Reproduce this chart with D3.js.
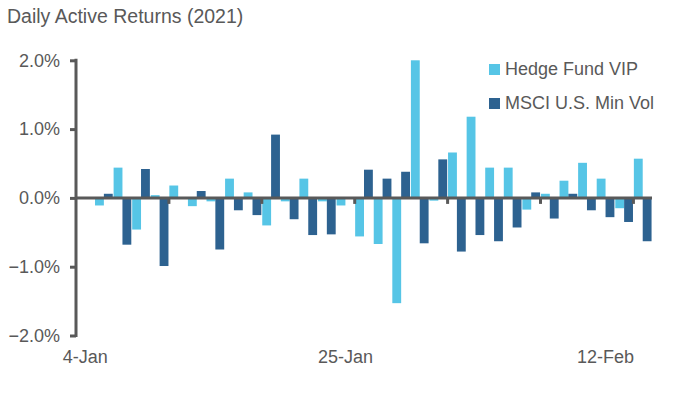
<!DOCTYPE html>
<html>
<head>
<meta charset="utf-8">
<script src="https://cdn.jsdelivr.net/npm/d3@7"></script>
<style>
	body { margin: 0; background: #fff; }
	text { font-family: "Liberation Sans", Arial, sans-serif; fill: #595959; }
</style>
</head>
<body>
<svg id="chart" width="679" height="394"></svg>
<script>
/* Data */

var dates = ["4-Jan","5-Jan","6-Jan","7-Jan","8-Jan","11-Jan","12-Jan","13-Jan","14-Jan","15-Jan",
	"19-Jan","20-Jan","21-Jan","22-Jan","25-Jan","26-Jan","27-Jan","28-Jan","29-Jan",
	"1-Feb","2-Feb","3-Feb","4-Feb","5-Feb","8-Feb","9-Feb","10-Feb","11-Feb","12-Feb","16-Feb","17-Feb"];

var hedgeFund = [0, -0.11, 0.44, -0.46, 0.04, 0.18, -0.12, -0.05, 0.28, 0.08,
	-0.40, -0.05, 0.28, -0.05, -0.11, -0.56, -0.67, -1.53, 2.00,
	-0.04, 0.66, 1.18, 0.44, 0.44, -0.17, 0.06, 0.25, 0.51, 0.28, -0.15, 0.57];

var msciMinVol = [0, 0.06, -0.68, 0.42, -0.99, 0, 0.10, -0.75, -0.18, -0.25,
	0.92, -0.31, -0.54, -0.53, 0, 0.41, 0.28, 0.38, -0.66,
	0.56, -0.78, -0.54, -0.63, -0.43, 0.08, -0.30, 0.06, -0.18, -0.28, -0.35, -0.63];

var seriesNames = ["Hedge Fund VIP", "MSCI U.S. Min Vol"];
var colors = ["#56C5E6", "#2D6290"];
var xLabels = ["4-Jan", "25-Jan", "12-Feb"];
var yTicks = [-2, -1, 0, 1, 2];

/* Layout */

var svg = d3.select("#chart");
var plot = {left: 76, right: 652, top: 60.3, bottom: 335.5};
var axisColor = "#595959";

var x0 = d3.scaleBand()
	.domain(dates)
	.range([plot.left, plot.right]);

var x1 = d3.scaleBand()
	.domain([0, 1])
	.range([0, x0.bandwidth()])
	.paddingOuter(0.05);

var y = d3.scaleLinear()
	.domain([-2, 2])
	.range([plot.bottom, plot.top]);

/* Title */

svg.append("text")
	.attr("x", 7)
	.attr("y", 23)
	.style("font-size", "19.5px")
	.text("Daily Active Returns (2021)");

/* Bars */

var rows = dates.map(function(d, i){ return {date: d, values: [hedgeFund[i], msciMinVol[i]]}; });

var groups = svg.append("g")
	.selectAll("g")
	.data(rows)
	.enter().append("g")
	.attr("transform", function(d){ return "translate(" + x0(d.date) + ",0)"; });

groups.selectAll("rect")
	.data(function(d){ return d.values; })
	.enter().append("rect")
	.attr("x", function(d, j){ return x1(j); })
	.attr("width", x1.bandwidth())
	.attr("y", function(d){ return y(Math.max(0, d)); })
	.attr("height", function(d){ return Math.abs(y(d) - y(0)); })
	.attr("fill", function(d, j){ return colors[j]; });

/* Y axis */

var yAxis = svg.append("g")
	.attr("transform", "translate(" + plot.left + ",0)")
	.call(d3.axisLeft(y)
		.tickValues(yTicks)
		.tickSize(6)
		.tickPadding(10)
		.tickFormat(function(d){ return d3.format(".1f")(d) + "%"; }));

yAxis.select(".domain").remove();
yAxis.selectAll("line")
	.attr("stroke", axisColor)
	.attr("stroke-width", 3);
yAxis.selectAll("text")
	.style("font-size", "18px")
	.attr("fill", null);

svg.append("line")
	.attr("x1", plot.left)
	.attr("x2", plot.left)
	.attr("y1", y(2) - 1.5)
	.attr("y2", y(-2) + 1.5)
	.attr("stroke", axisColor)
	.attr("stroke-width", 3);

/* Zero line and x ticks */

svg.append("g")
	.selectAll("line")
	.data(dates.filter(function(d, i){ return i > 0 && i % 5 == 0; }))
	.enter().append("line")
	.attr("x1", function(d){ return x0(d); })
	.attr("x2", function(d){ return x0(d); })
	.attr("y1", y(0))
	.attr("y2", y(0) + 6)
	.attr("stroke", axisColor)
	.attr("stroke-width", 3);

svg.append("line")
	.attr("x1", plot.left)
	.attr("x2", plot.right)
	.attr("y1", y(0))
	.attr("y2", y(0))
	.attr("stroke", axisColor)
	.attr("stroke-width", 3);

svg.append("g")
	.selectAll("text")
	.data(xLabels)
	.enter().append("text")
	.attr("x", function(d){ return x0(d) + x0.bandwidth() / 2; })
	.attr("y", 363)
	.attr("text-anchor", "middle")
	.style("font-size", "18px")
	.text(function(d){ return d; });

/* Legend */

var legend = svg.append("g")
	.selectAll("g")
	.data(seriesNames)
	.enter().append("g")
	.attr("transform", function(d, i){ return "translate(489," + (64 + i * 34) + ")"; });

legend.append("rect")
	.attr("width", 11)
	.attr("height", 11)
	.attr("fill", function(d, i){ return colors[i]; });

legend.append("text")
	.attr("x", 16)
	.attr("y", 11)
	.style("font-size", "18px")
	.text(function(d){ return d; });
</script>
</body>
</html>
